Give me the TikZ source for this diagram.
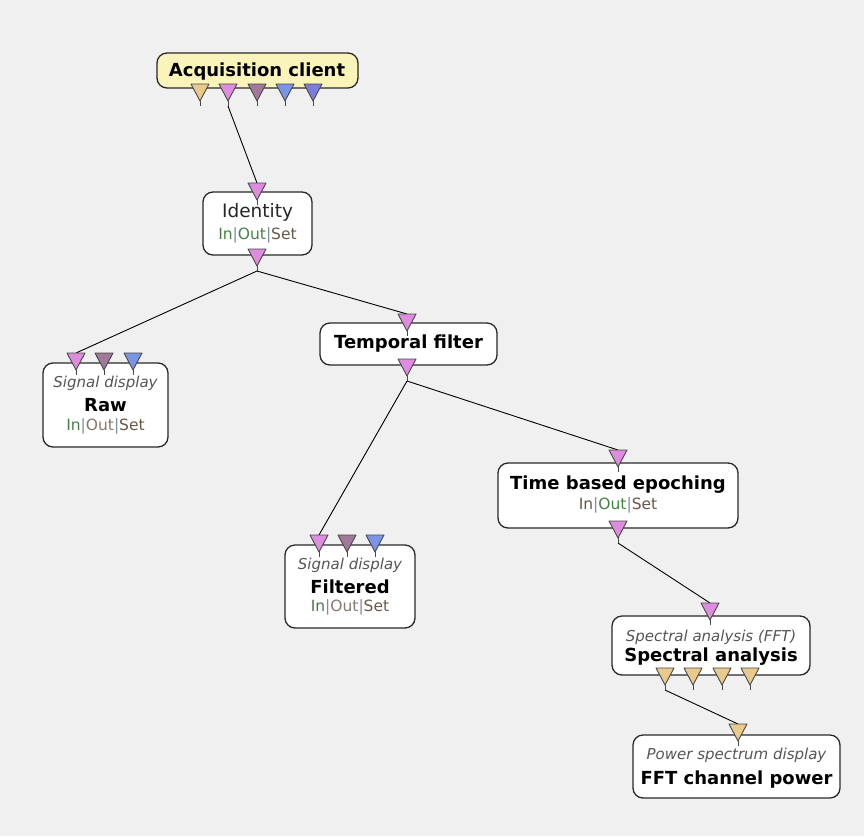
\documentclass[tikz,border=0pt]{standalone}
\usepackage{fontspec}
\setmainfont{DejaVu Sans}
\definecolor{bgc}{RGB}{240,240,240}
\definecolor{edge}{RGB}{40,40,40}
\definecolor{acqfill}{RGB}{251,244,186}
\definecolor{ptan}{RGB}{234,202,140}
\definecolor{ppink}{RGB}{222,140,222}
\definecolor{pmauve}{RGB}{160,122,152}
\definecolor{pblue}{RGB}{122,148,230}
\definecolor{pviolet}{RGB}{124,124,222}
\definecolor{ongreen}{RGB}{70,130,70}
\definecolor{offbrown}{RGB}{105,88,72}
\definecolor{sepc}{RGB}{120,140,165}
\definecolor{subc}{RGB}{85,85,85}
\pgfdeclarelayer{back}
\pgfdeclarelayer{wires}
\pgfsetlayers{back,wires,main}
\tikzset{
  box/.style={draw=edge, line width=1.3pt, rounded corners=10pt, fill=white, inner sep=0pt},
  link/.style={draw=black, line width=0.9pt},
  bold/.style={inner sep=0pt, font=\fontsize{18}{20}\selectfont\bfseries, text=black},
  plain/.style={inner sep=0pt, font=\fontsize{18.5}{20}\selectfont, text=black!85},
  sub/.style={inner sep=0pt, font=\fontsize{15}{17}\selectfont\itshape, text=subc},
  ios/.style={inner sep=0pt, font=\fontsize{15.5}{17}\selectfont},
}
% a down-pointing connector port: name, x, top y, fill colour
% (#1) is the top centre, (#1-end) the end of its short stem
\newcommand\portdown[4]{%
  \filldraw[fill=#4, draw=edge!85, line width=0.9pt, line join=round]
    ({#2-9},#3) -- ({#2+9},#3) -- (#2,{#3+17}) -- cycle;
  \draw[edge!85, line width=0.9pt] (#2,{#3+17}) -- (#2,{#3+22});
  \coordinate (#1) at (#2,#3);
  \coordinate (#1-end) at (#2,{#3+22});
}
\newcommand\ios[3]{{\color{#1}In}{\color{sepc}|}{\color{#2}Out}{\color{sepc}|}{\color{#3}Set}}
\begin{document}
\begin{tikzpicture}[x=1pt,y=-1pt]
\begin{pgfonlayer}{back}
\fill[bgc] (0,0) rectangle (864,836);
\end{pgfonlayer}
\useasboundingbox (0,0) rectangle (864,836);

% boxes
\node[box, fill=acqfill, minimum width=201pt, minimum height=35pt] (acq) at (257.5,70.5) {};
\node[box, minimum width=109pt, minimum height=63pt] (ident) at (257.5,223.5) {};
\node[box, minimum width=177pt, minimum height=42pt] (temp) at (408.5,344) {};
\node[box, minimum width=125pt, minimum height=84pt] (raw) at (105.5,405) {};
\node[box, minimum width=240pt, minimum height=65pt] (tbe) at (618,495.5) {};
\node[box, minimum width=130pt, minimum height=83pt] (filt) at (350,586.5) {};
\node[box, minimum width=198pt, minimum height=59pt] (spec) at (711,645.5) {};
\node[box, minimum width=207pt, minimum height=63pt] (fft) at (736.5,766.5) {};

% labels
\node[bold] (acq-t) at (257,72) {Acquisition client};
\node[plain] (ident-t) at (257.5,212) {Identity};
\node[ios] (ident-s) at (257.5,235) {\ios{ongreen}{ongreen}{offbrown}};
\node[bold] (temp-t) at (408.5,344) {Temporal filter};
\node[sub] (raw-c) at (105.5,383) {Signal display};
\node[bold] (raw-t) at (105.5,405) {Raw};
\node[ios] (raw-s) at (105.5,426) {\ios{ongreen}{offbrown!80}{offbrown}};
\node[bold] (tbe-t) at (618,485) {Time based epoching};
\node[ios] (tbe-s) at (618,505) {\ios{offbrown}{ongreen}{offbrown}};
\node[sub] (filt-c) at (350,565) {Signal display};
\node[bold] (filt-t) at (350,587) {Filtered};
\node[ios] (filt-s) at (350,607) {\ios{ongreen!70!offbrown}{offbrown!80}{offbrown}};
\node[sub] (spec-c) at (711,637) {Spectral analysis (FFT)};
\node[bold] (spec-t) at (711,657) {Spectral analysis};
\node[sub] (fft-c) at (736.5,755) {Power spectrum display};
\node[bold] (fft-t) at (736.5,780) {FFT channel power};

% ports
\portdown{acq-o1}{200}{84}{ptan}
\portdown{acq-o2}{228}{84}{ppink}
\portdown{acq-o3}{257}{84}{pmauve}
\portdown{acq-o4}{285}{84}{pblue}
\portdown{acq-o5}{313}{84}{pviolet}
\portdown{ident-i}{257}{183}{ppink}
\portdown{ident-o}{257}{249}{ppink}
\portdown{temp-i}{407}{314}{ppink}
\portdown{temp-o}{407}{359}{ppink}
\portdown{raw-i1}{76}{353}{ppink}
\portdown{raw-i2}{104}{353}{pmauve}
\portdown{raw-i3}{133}{353}{pblue}
\portdown{tbe-i}{618}{450}{ppink}
\portdown{tbe-o}{618}{521}{ppink}
\portdown{filt-i1}{319}{535}{ppink}
\portdown{filt-i2}{347}{535}{pmauve}
\portdown{filt-i3}{375}{535}{pblue}
\portdown{spec-i}{710}{603}{ppink}
\portdown{spec-o1}{665}{668}{ptan}
\portdown{spec-o2}{693}{668}{ptan}
\portdown{spec-o3}{722}{668}{ptan}
\portdown{spec-o4}{750}{668}{ptan}
\portdown{fft-i}{738}{724}{ptan}

% connectors, kept beneath the ports
\begin{pgfonlayer}{wires}
\draw[link] (acq-o2-end) -- (ident-i);
\draw[link] (ident-o-end) -- (raw-i1);
\draw[link] (ident-o-end) -- (temp-i);
\draw[link] (temp-o-end) -- (filt-i1);
\draw[link] (temp-o-end) -- (tbe-i);
\draw[link] (tbe-o-end) -- (spec-i);
\draw[link] (spec-o1-end) -- (fft-i);
\end{pgfonlayer}
\end{tikzpicture}
\end{document}
